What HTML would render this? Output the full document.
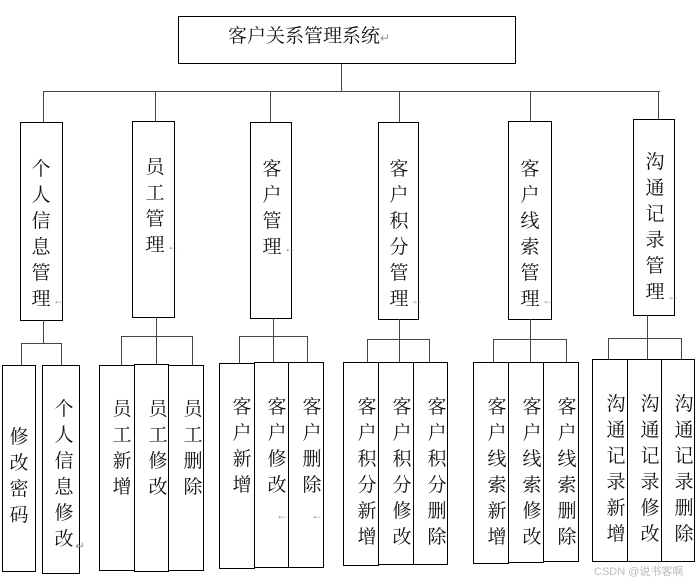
<!DOCTYPE html>
<html><head><meta charset="utf-8"><style>
html,body{margin:0;padding:0;background:#fff;}
body{width:698px;height:585px;position:relative;overflow:hidden;font-family:"Liberation Serif","Noto Serif CJK SC","Noto Sans CJK SC",serif;}
.b{position:absolute;border:1.3px solid #000;box-sizing:border-box;background:#fff;}
.t{position:absolute;font-size:19px;line-height:26px;width:22px;text-align:center;color:#111;}
.l{position:absolute;background:#444;}
.a{color:#999;font-size:12px;}
.m{position:absolute;color:#999;font-size:12px;line-height:12px;}
</style></head><body>
<div class="b" style="left:178px;top:16px;width:338px;height:48px;"></div>
<div style="position:absolute;left:228px;top:24px;font-size:19px;line-height:26px;color:#111;">客户关系管理系统<span class="a">↵</span></div>
<div class="l" style="left:341px;top:64px;width:1px;height:28px"></div>
<div class="l" style="left:43px;top:91px;width:617px;height:1px"></div>
<div class="l" style="left:43px;top:91px;width:1px;height:31px"></div>
<div class="l" style="left:155px;top:91px;width:1px;height:30px"></div>
<div class="l" style="left:270px;top:91px;width:1px;height:31px"></div>
<div class="l" style="left:399px;top:91px;width:1px;height:31px"></div>
<div class="l" style="left:530px;top:91px;width:1px;height:30px"></div>
<div class="l" style="left:658px;top:91px;width:1px;height:28px"></div>
<div class="b" style="left:20px;top:122px;width:43px;height:199px"></div>
<div class="t" style="left:30px;top:157px">个人信息管理</div>
<div class="m" style="left:53px;top:294px">←</div>
<div class="b" style="left:132px;top:121px;width:43px;height:197px"></div>
<div class="t" style="left:144px;top:155px">员工管理</div>
<div class="m" style="left:167px;top:240px">←</div>
<div class="b" style="left:250px;top:122px;width:42px;height:197px"></div>
<div class="t" style="left:261px;top:157px">客户管理</div>
<div class="m" style="left:284px;top:242px">←</div>
<div class="b" style="left:378px;top:122px;width:41px;height:198px"></div>
<div class="t" style="left:388px;top:157px">客户积分管理</div>
<div class="m" style="left:411px;top:294px">←</div>
<div class="b" style="left:508px;top:121px;width:44px;height:199px"></div>
<div class="t" style="left:519px;top:157px">客户线索管理</div>
<div class="m" style="left:542px;top:294px">←</div>
<div class="b" style="left:633px;top:119px;width:42px;height:197px"></div>
<div class="t" style="left:644px;top:150px">沟通记录管理</div>
<div class="m" style="left:667px;top:290px">←</div>
<div class="l" style="left:43px;top:320px;width:1px;height:23px"></div>
<div class="l" style="left:21px;top:343px;width:40px;height:1px"></div>
<div class="l" style="left:21px;top:343px;width:1px;height:22px"></div>
<div class="l" style="left:61px;top:343px;width:1px;height:22px"></div>
<div class="l" style="left:156px;top:317px;width:1px;height:47px"></div>
<div class="l" style="left:121px;top:336px;width:71px;height:1px"></div>
<div class="l" style="left:121px;top:336px;width:1px;height:29px"></div>
<div class="l" style="left:192px;top:336px;width:1px;height:29px"></div>
<div class="l" style="left:273px;top:318px;width:1px;height:44px"></div>
<div class="l" style="left:239px;top:336px;width:68px;height:1px"></div>
<div class="l" style="left:239px;top:336px;width:1px;height:27px"></div>
<div class="l" style="left:307px;top:336px;width:1px;height:26px"></div>
<div class="l" style="left:399px;top:319px;width:1px;height:43px"></div>
<div class="l" style="left:367px;top:339px;width:62px;height:1px"></div>
<div class="l" style="left:367px;top:339px;width:1px;height:23px"></div>
<div class="l" style="left:429px;top:339px;width:1px;height:23px"></div>
<div class="l" style="left:530px;top:319px;width:1px;height:43px"></div>
<div class="l" style="left:493px;top:339px;width:73px;height:1px"></div>
<div class="l" style="left:493px;top:339px;width:1px;height:23px"></div>
<div class="l" style="left:566px;top:339px;width:1px;height:23px"></div>
<div class="l" style="left:647px;top:315px;width:1px;height:44px"></div>
<div class="l" style="left:608px;top:338px;width:73px;height:1px"></div>
<div class="l" style="left:608px;top:338px;width:1px;height:21px"></div>
<div class="l" style="left:681px;top:338px;width:1px;height:21px"></div>
<div class="b" style="left:2px;top:365px;width:34px;height:207px"></div>
<div class="t" style="left:8px;top:425px">修改密码</div>
<div class="b" style="left:42px;top:365px;width:38px;height:209px"></div>
<div class="t" style="left:53px;top:397px">个人信息修改</div>
<div class="m" style="left:75px;top:540px">↵</div>
<div class="b" style="left:99px;top:365px;width:36px;height:206px"></div>
<div class="t" style="left:111px;top:397px">员工新增</div>
<div class="b" style="left:134px;top:364px;width:35px;height:208px"></div>
<div class="t" style="left:147px;top:397px">员工修改</div>
<div class="b" style="left:168px;top:365px;width:36px;height:206px"></div>
<div class="t" style="left:182px;top:397px">员工删除</div>
<div class="b" style="left:219px;top:363px;width:36px;height:206px"></div>
<div class="t" style="left:231px;top:395px">客户新增</div>
<div class="b" style="left:254px;top:362px;width:35px;height:206px"></div>
<div class="t" style="left:266px;top:395px">客户修改</div>
<div class="m" style="left:276px;top:509px">←</div>
<div class="b" style="left:288px;top:362px;width:36px;height:206px"></div>
<div class="t" style="left:301px;top:395px">客户删除</div>
<div class="m" style="left:311px;top:509px">←</div>
<div class="b" style="left:343px;top:362px;width:36px;height:204px"></div>
<div class="t" style="left:356px;top:395px">客户积分新增</div>
<div class="b" style="left:378px;top:362px;width:36px;height:203px"></div>
<div class="t" style="left:391px;top:395px">客户积分修改</div>
<div class="b" style="left:413px;top:362px;width:35px;height:203px"></div>
<div class="t" style="left:426px;top:395px">客户积分删除</div>
<div class="b" style="left:473px;top:362px;width:36px;height:202px"></div>
<div class="t" style="left:486px;top:395px">客户线索新增</div>
<div class="b" style="left:508px;top:362px;width:36px;height:201px"></div>
<div class="t" style="left:521px;top:395px">客户线索修改</div>
<div class="b" style="left:543px;top:362px;width:36px;height:200px"></div>
<div class="t" style="left:556px;top:395px">客户线索删除</div>
<div class="b" style="left:592px;top:359px;width:36px;height:203px"></div>
<div class="t" style="left:605px;top:392px">沟通记录新增</div>
<div class="b" style="left:627px;top:359px;width:35px;height:203px"></div>
<div class="t" style="left:639px;top:392px">沟通记录修改</div>
<div class="b" style="left:661px;top:359px;width:34px;height:203px"></div>
<div class="t" style="left:673px;top:392px">沟通记录删除</div>
<div style="position:absolute;left:594px;top:563px;font-family:'Liberation Sans','Noto Sans CJK SC',sans-serif;font-size:11px;color:#bbb;">CSDN @说书客啊</div>
</body></html>
